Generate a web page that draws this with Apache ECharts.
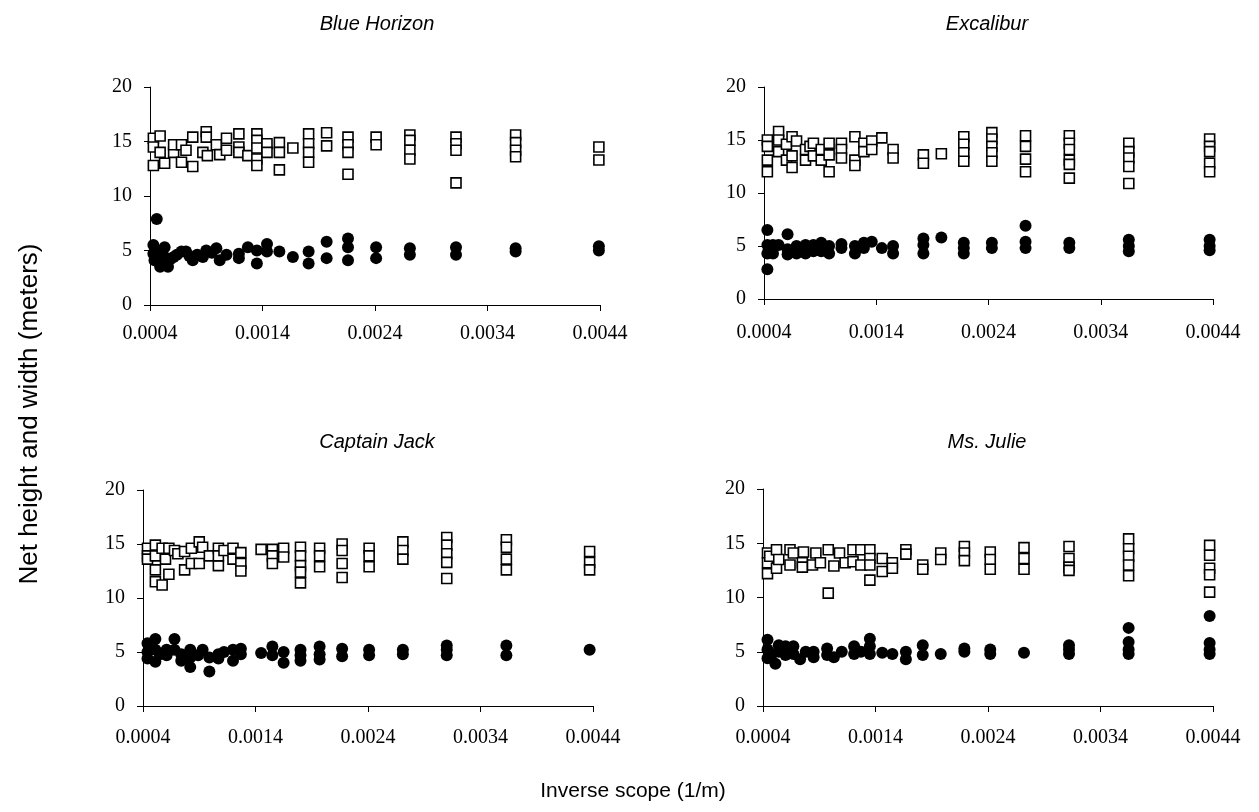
<!DOCTYPE html>
<html>
<head>
<meta charset="utf-8">
<script src="https://cdn.jsdelivr.net/npm/echarts@6/dist/echarts.min.js"></script>
<style>
html,body{margin:0;padding:0;background:#fff;}
#chart{width:1259px;height:812px;}
</style>
</head>
<body>
<div id="chart"></div>
<script>
// ---- data ----
const panelTitles = ['Blue Horizon', 'Excalibur', 'Captain Jack', 'Ms. Julie'];
const xTicks = [0.0004, 0.0014, 0.0024, 0.0034, 0.0044];
const yTicks = [0, 5, 10, 15, 20];

const blueHorizonWidth = [[0.00043,15.3],[0.00043,14.5],[0.00043,12.8],[0.00049,15.5],[0.00049,14.0],[0.00053,13.0],[0.00061,14.0],[0.00061,14.7],[0.00068,14.7],[0.00068,13.1],[0.00072,14.2],[0.00078,15.4],[0.00078,12.7],[0.00087,14.0],[0.0009,15.9],[0.0009,15.4],[0.00091,13.7],[0.00099,14.7],[0.00102,13.8],[0.00108,15.3],[0.00108,14.2],[0.00119,15.7],[0.00119,14.5],[0.00119,14.0],[0.00127,13.7],[0.00135,15.7],[0.00135,15.1],[0.00135,14.4],[0.00135,13.4],[0.00135,12.8],[0.00144,14.8],[0.00144,14.0],[0.00155,14.9],[0.00155,14.0],[0.00155,12.4],[0.00167,14.4],[0.00181,15.7],[0.00181,14.8],[0.00181,14.0],[0.00181,13.1],[0.00197,15.8],[0.00197,14.6],[0.00216,15.4],[0.00216,14.7],[0.00216,14.0],[0.00216,12.0],[0.00241,15.4],[0.00241,14.7],[0.00271,15.6],[0.00271,15.1],[0.00271,14.2],[0.00271,13.4],[0.00312,15.4],[0.00312,14.8],[0.00312,14.2],[0.00312,11.2],[0.00365,15.6],[0.00365,14.9],[0.00365,14.2],[0.00365,13.6],[0.00439,14.5],[0.00439,13.3]];
const blueHorizonHeight = [[0.00046,7.9],[0.00043,5.5],[0.00043,4.7],[0.00044,4.1],[0.00045,5.0],[0.00047,4.5],[0.00049,3.5],[0.00051,3.8],[0.00053,5.3],[0.00053,4.4],[0.00056,3.5],[0.00058,4.2],[0.00061,4.4],[0.00064,4.6],[0.00068,4.9],[0.00072,4.9],[0.00075,4.5],[0.00078,4.1],[0.00082,4.6],[0.00087,4.4],[0.0009,5.0],[0.00095,4.8],[0.00099,5.2],[0.00102,4.1],[0.00108,4.6],[0.00119,4.7],[0.00119,4.3],[0.00127,5.3],[0.00135,5.0],[0.00135,3.8],[0.00144,5.6],[0.00144,4.9],[0.00155,4.9],[0.00167,4.4],[0.00181,4.9],[0.00181,3.8],[0.00197,5.8],[0.00197,4.3],[0.00216,6.1],[0.00216,5.3],[0.00216,4.1],[0.00241,5.3],[0.00241,4.3],[0.00271,5.2],[0.00271,4.6],[0.00312,5.3],[0.00312,4.6],[0.00365,5.2],[0.00365,4.9],[0.00439,5.4],[0.00439,5.0]];

const excaliburWidth = [[0.00043,15.0],[0.00043,14.4],[0.00043,13.1],[0.00043,12.0],[0.00053,15.8],[0.00053,15.0],[0.00053,13.9],[0.0006,14.6],[0.0006,13.1],[0.00065,15.3],[0.00065,13.5],[0.00065,12.4],[0.00069,14.9],[0.00077,14.1],[0.00077,13.1],[0.00081,14.4],[0.00084,14.7],[0.00084,13.5],[0.00091,13.1],[0.00091,14.1],[0.00098,14.7],[0.00098,13.6],[0.00098,12.0],[0.00109,14.7],[0.00109,14.1],[0.00109,13.3],[0.00121,15.3],[0.00121,13.1],[0.00121,12.6],[0.00129,14.7],[0.00129,13.9],[0.00136,14.9],[0.00136,14.1],[0.00145,15.2],[0.00155,14.1],[0.00155,13.3],[0.00182,13.6],[0.00182,12.8],[0.00198,13.7],[0.00218,15.3],[0.00218,14.6],[0.00218,13.8],[0.00218,13.0],[0.00243,15.7],[0.00243,15.1],[0.00243,14.4],[0.00243,13.8],[0.00243,13.0],[0.00273,15.4],[0.00273,14.4],[0.00273,13.2],[0.00273,12.0],[0.00312,15.4],[0.00312,14.7],[0.00312,14.1],[0.00312,13.1],[0.00312,12.7],[0.00312,11.4],[0.00365,14.7],[0.00365,13.9],[0.00365,13.3],[0.00365,12.5],[0.00365,10.9],[0.00437,15.1],[0.00437,14.4],[0.00437,13.9],[0.00437,12.8],[0.00437,12.0]];
const excaliburHeight = [[0.00043,6.5],[0.00043,5.1],[0.00043,4.3],[0.00043,2.8],[0.00048,5.1],[0.00048,4.3],[0.00053,5.1],[0.00061,6.1],[0.00061,4.7],[0.00061,4.2],[0.00069,5.0],[0.00069,4.3],[0.00077,5.1],[0.00077,4.3],[0.00084,5.1],[0.00084,4.5],[0.00091,5.3],[0.00091,4.5],[0.00098,5.0],[0.00098,4.3],[0.00109,5.2],[0.00109,4.8],[0.00121,5.0],[0.00121,4.3],[0.00129,5.3],[0.00129,4.8],[0.00136,5.4],[0.00145,4.8],[0.00155,5.0],[0.00155,4.3],[0.00182,5.7],[0.00182,5.1],[0.00182,4.3],[0.00198,5.8],[0.00218,5.3],[0.00218,4.8],[0.00218,4.3],[0.00243,5.3],[0.00243,4.8],[0.00273,6.9],[0.00273,5.4],[0.00273,4.8],[0.00312,5.3],[0.00312,4.8],[0.00365,5.6],[0.00365,5.0],[0.00365,4.5],[0.00437,5.6],[0.00437,5.0],[0.00437,4.6]];

const captainJackWidth = [[0.00044,14.6],[0.00044,13.9],[0.00044,13.6],[0.00051,14.9],[0.00051,13.9],[0.00051,12.6],[0.00051,11.5],[0.00057,11.2],[0.00057,14.6],[0.0006,13.6],[0.00063,12.2],[0.00063,14.6],[0.00068,14.4],[0.00071,14.1],[0.00077,14.3],[0.00077,12.6],[0.00083,13.2],[0.00083,14.6],[0.0009,15.2],[0.0009,13.2],[0.00093,14.7],[0.00099,13.9],[0.00107,14.6],[0.00107,13.0],[0.00107,13.9],[0.00112,14.4],[0.0012,14.6],[0.0012,13.6],[0.00127,14.2],[0.00127,13.2],[0.00127,12.5],[0.00145,14.5],[0.00155,14.5],[0.00155,13.9],[0.00155,13.2],[0.00165,14.6],[0.00165,13.8],[0.0018,14.7],[0.0018,13.9],[0.0018,13.0],[0.0018,12.4],[0.0018,11.4],[0.00197,14.6],[0.00197,13.9],[0.00197,12.9],[0.00217,15.0],[0.00217,14.4],[0.00217,13.2],[0.00217,11.9],[0.00241,14.6],[0.00241,13.9],[0.00241,12.9],[0.00271,15.2],[0.00271,14.4],[0.00271,13.6],[0.0031,15.6],[0.0031,14.9],[0.0031,14.1],[0.0031,13.3],[0.0031,11.8],[0.00363,15.4],[0.00363,14.7],[0.00363,13.6],[0.00363,12.6],[0.00437,14.3],[0.00437,13.3],[0.00437,12.6]];
const captainJackHeight = [[0.00044,5.8],[0.00044,5.0],[0.00044,4.4],[0.00051,6.2],[0.00051,5.2],[0.00051,4.1],[0.00055,4.8],[0.00061,5.2],[0.00061,4.7],[0.00068,6.2],[0.00068,5.2],[0.00074,4.8],[0.00074,4.2],[0.00082,5.2],[0.00082,4.5],[0.00082,3.6],[0.00089,4.7],[0.00093,5.2],[0.00099,4.5],[0.00099,3.2],[0.00107,4.8],[0.00107,4.4],[0.00112,5.0],[0.0012,5.2],[0.0012,4.2],[0.00127,5.3],[0.00127,4.8],[0.00145,4.9],[0.00155,5.5],[0.00155,4.7],[0.00165,5.0],[0.00165,4.0],[0.0018,5.2],[0.0018,4.7],[0.0018,4.2],[0.00197,5.5],[0.00197,4.8],[0.00197,4.3],[0.00217,5.3],[0.00217,4.6],[0.00241,5.2],[0.00241,4.7],[0.00271,5.2],[0.00271,4.8],[0.0031,5.6],[0.0031,5.2],[0.0031,4.7],[0.00363,5.6],[0.00363,4.7],[0.00437,5.2]];

const msJulieWidth = [[0.00044,14.1],[0.00044,13.2],[0.00044,12.2],[0.00046,13.8],[0.00052,14.4],[0.00052,12.7],[0.00054,13.5],[0.00064,14.4],[0.00064,13.0],[0.00067,14.1],[0.00075,13.2],[0.00075,12.8],[0.00076,14.2],[0.00084,13.0],[0.00087,14.1],[0.00091,13.2],[0.00098,14.4],[0.00098,10.4],[0.00103,12.9],[0.00108,14.1],[0.00113,13.2],[0.0012,14.4],[0.0012,13.3],[0.00127,14.4],[0.00127,13.0],[0.00135,14.4],[0.00135,13.6],[0.00135,13.0],[0.00135,11.6],[0.00146,13.6],[0.00146,12.4],[0.00155,13.2],[0.00155,12.7],[0.00167,14.4],[0.00167,14.0],[0.00182,13.0],[0.00182,12.6],[0.00198,14.1],[0.00198,13.5],[0.00219,14.7],[0.00219,14.1],[0.00219,13.4],[0.00242,14.2],[0.00242,13.5],[0.00242,12.6],[0.00272,14.6],[0.00272,13.6],[0.00272,12.6],[0.00312,14.7],[0.00312,13.6],[0.00312,12.8],[0.00312,12.5],[0.00365,15.4],[0.00365,14.5],[0.00365,13.8],[0.00365,13.0],[0.00365,12.0],[0.00437,14.8],[0.00437,13.9],[0.00437,12.7],[0.00437,12.1],[0.00437,10.5]];
const msJulieHeight = [[0.00044,6.1],[0.00044,5.2],[0.00044,4.4],[0.00048,4.8],[0.00051,3.9],[0.00054,5.6],[0.00054,5.0],[0.0006,5.5],[0.0006,4.7],[0.00067,5.5],[0.00067,4.8],[0.00073,4.3],[0.00078,5.0],[0.00085,5.0],[0.00085,4.5],[0.00097,5.3],[0.00097,4.7],[0.00103,4.5],[0.0011,5.0],[0.00121,5.5],[0.00121,4.8],[0.00127,5.0],[0.00135,6.2],[0.00135,5.5],[0.00135,4.8],[0.00146,4.9],[0.00155,4.8],[0.00167,5.0],[0.00167,4.3],[0.00182,5.6],[0.00182,4.7],[0.00198,4.8],[0.00219,5.3],[0.00219,5.0],[0.00242,5.2],[0.00242,4.8],[0.00272,4.9],[0.00312,5.6],[0.00312,5.2],[0.00312,4.8],[0.00365,7.2],[0.00365,5.9],[0.00365,5.2],[0.00365,4.8],[0.00437,8.3],[0.00437,5.8],[0.00437,5.2],[0.00437,4.8]];

const widthSets = [blueHorizonWidth, excaliburWidth, captainJackWidth, msJulieWidth];
const heightSets = [blueHorizonHeight, excaliburHeight, captainJackHeight, msJulieHeight];

// ---- layout ----
const grids = [
  {left: 150, top: 87, width: 450, height: 218},
  {left: 764, top: 87, width: 449, height: 212},
  {left: 143, top: 490, width: 450, height: 216},
  {left: 763, top: 489, width: 450, height: 217}
];
const xLabelMargins = [19, 24, 22, 22];
const titlePos = [[372, 9], [982, 9], [372, 427], [982, 427]];

const chart = echarts.init(document.getElementById('chart'), null, {renderer: 'canvas'});
const serif = 'Liberation Serif, Times New Roman, serif';
const sans = 'Liberation Sans, Arial, sans-serif';

const option = {
  backgroundColor: '#fff',
  animation: false,
  title: panelTitles.map((t, i) => ({
    text: t, left: titlePos[i][0], top: titlePos[i][1], textAlign: 'center',
    textStyle: {fontFamily: sans, fontStyle: 'italic', fontWeight: 'normal', fontSize: 20, color: '#000'}
  })).concat([
    {text: 'Inverse scope (1/m)', left: 628, top: 776, textAlign: 'center',
     textStyle: {fontFamily: sans, fontWeight: 'normal', fontSize: 21, color: '#000'}}
  ]),
  graphic: [{
    type: 'text', rotation: Math.PI / 2, x: 30, y: 414,
    style: {text: 'Net height and width (meters)', font: '26px ' + sans, fill: '#000', textAlign: 'center', textVerticalAlign: 'middle'}
  }],
  grid: grids.map(g => Object.assign({containLabel: false}, g)),
  xAxis: grids.map((g, i) => ({
    type: 'value', gridIndex: i, min: xTicks[0], max: xTicks[xTicks.length - 1], interval: 0.001,
    axisLine: {show: true, onZero: false, lineStyle: {color: '#000', width: 1}},
    axisTick: {show: true, inside: false, length: 6, lineStyle: {color: '#000'}},
    splitLine: {show: false},
    axisLabel: {color: '#000', fontFamily: serif, fontSize: 20, margin: xLabelMargins[i], formatter: v => v.toFixed(4)}
  })),
  yAxis: grids.map((g, i) => ({
    type: 'value', gridIndex: i, min: yTicks[0], max: yTicks[yTicks.length - 1], interval: 5,
    axisLine: {show: true, lineStyle: {color: '#000', width: 1}},
    axisTick: {show: true, inside: false, length: 6, lineStyle: {color: '#000'}},
    splitLine: {show: false},
    axisLabel: {color: '#000', fontFamily: serif, fontSize: 20, margin: 18}
  })),
  series: []
};

for (let i = 0; i < 4; i++) {
  option.series.push({
    type: 'scatter', xAxisIndex: i, yAxisIndex: i, data: widthSets[i],
    symbol: 'rect', symbolSize: 10,
    itemStyle: {color: '#fff', borderColor: '#000', borderWidth: 1.6, opacity: 1}
  });
  option.series.push({
    type: 'scatter', xAxisIndex: i, yAxisIndex: i, data: heightSets[i],
    symbol: 'circle', symbolSize: 12,
    itemStyle: {color: '#000', opacity: 1}
  });
}
chart.setOption(option);
</script>
</body>
</html>
